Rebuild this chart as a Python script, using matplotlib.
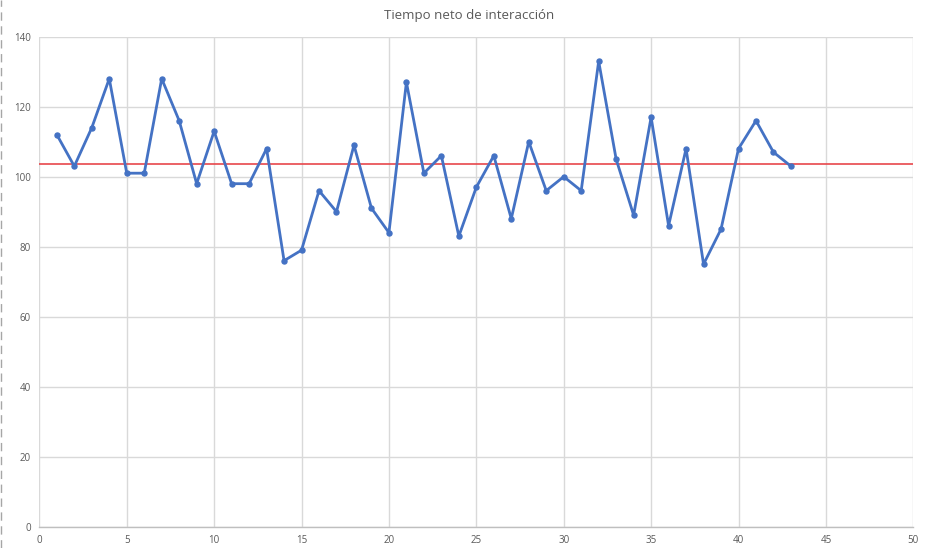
import matplotlib
matplotlib.use("Agg")
import matplotlib.pyplot as plt
from matplotlib.lines import Line2D

# tiempo neto por sesion
sesion = list(range(1, 44))
tiempo = [112, 103, 114, 128, 101, 101, 128, 116, 98, 113,
          98, 98, 108, 76, 79, 96, 90, 109, 91, 84,
          127, 101, 106, 83, 97, 106, 88, 110, 96, 100,
          96, 133, 105, 89, 117, 86, 108, 75, 85, 108,
          116, 107, 103]
referencia = 103.7

x_ticks = [0, 5, 10, 15, 20, 25, 30, 35, 40, 45, 50]
y_ticks = [0, 20, 40, 60, 80, 100, 120, 140]

plt.rcParams['font.family'] = ['Open Sans', 'DejaVu Sans']

fig = plt.figure(figsize=(9.37, 5.48), dpi=100)
ax = fig.add_axes([0.042, 0.039, 0.9327, 0.894])

ax.plot(sesion, tiempo, color='#4472C4', lw=2, marker='o', markersize=3.6, zorder=3)
ax.axhline(referencia, color='#E8474C', lw=1.2, zorder=2)

ax.set_xlim(0, 50)
ax.set_ylim(0, 140)
ax.set_xticks(x_ticks)
ax.set_yticks(y_ticks)
ax.grid(True, color='#d9d9d9', lw=1)
ax.set_axisbelow(True)
ax.tick_params(length=0, labelsize=7, colors='#595959', pad=6)

for side in ['top', 'right', 'left']:
    ax.spines[side].set_visible(False)
ax.spines['bottom'].set_color('#bfbfbf')
ax.spines['bottom'].set_linewidth(1)

fig.text(0.501, 0.972, 'Tiempo neto de interacción', ha='center', va='center',
         fontsize=9.5, color='#595959')

# borde punteado a la izquierda
fig.add_artist(Line2D([0.001, 0.001], [0, 1], transform=fig.transFigure,
                      color='#a6a6a6', lw=1, ls=(0, (6, 4))))

fig.savefig('out.png', dpi=100)
